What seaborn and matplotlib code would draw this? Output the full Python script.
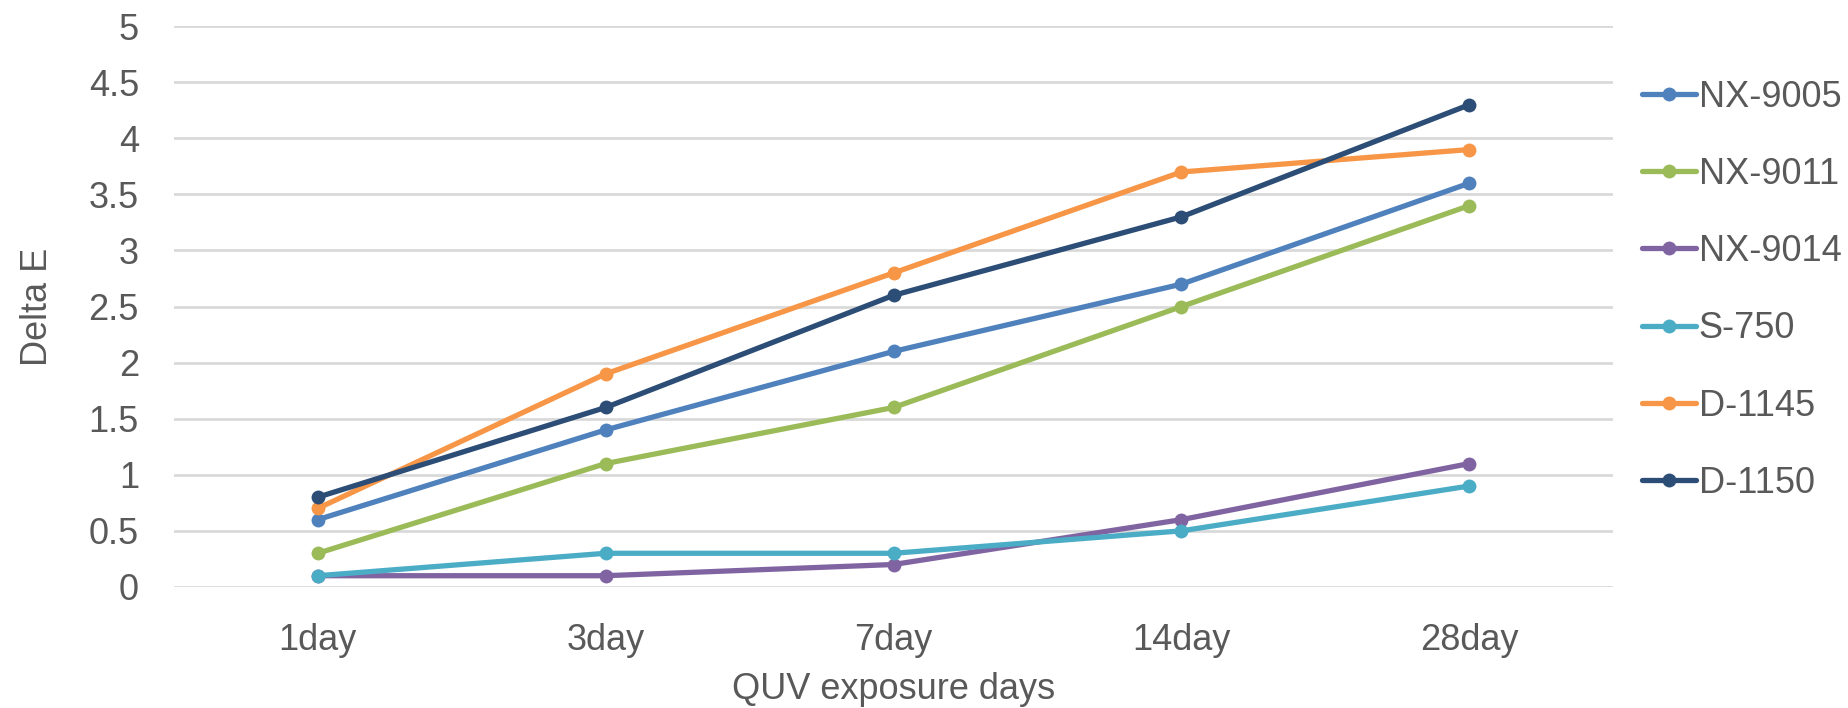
import matplotlib
matplotlib.use("Agg")
import matplotlib.pyplot as plt
import seaborn as sns
import pandas as pd

days = ["1day", "3day", "7day", "14day", "28day"]
nx_9005 = [0.6, 1.4, 2.1, 2.7, 3.6]
nx_9011 = [0.3, 1.1, 1.6, 2.5, 3.4]
nx_9014 = [0.1, 0.1, 0.2, 0.6, 1.1]
s_750 = [0.1, 0.3, 0.3, 0.5, 0.9]
d_1145 = [0.7, 1.9, 2.8, 3.7, 3.9]
d_1150 = [0.8, 1.6, 2.6, 3.3, 4.3]

series_names = ["NX-9005", "NX-9011", "NX-9014", "S-750", "D-1145", "D-1150"]
series_values = [nx_9005, nx_9011, nx_9014, s_750, d_1145, d_1150]
colors = ["#4F81BD", "#9BBB59", "#8064A2", "#4BACC6", "#F79646", "#2C4D75"]
y_ticks = [0, 0.5, 1, 1.5, 2, 2.5, 3, 3.5, 4, 4.5, 5]
y_tick_labels = ["0", "0.5", "1", "1.5", "2", "2.5", "3", "3.5", "4", "4.5", "5"]

rows = []
for name, vals in zip(series_names, series_values):
    for i, v in enumerate(vals):
        rows.append({"day": i, "product": name, "delta_e": v})
df = pd.DataFrame(rows)

sns.set_theme(style="white")
plt.rcParams["font.family"] = ["Liberation Sans", "DejaVu Sans"]
text_color = "#595959"
lw = 3.8
ms = 10

fig = plt.figure(figsize=(18.48, 7.08), dpi=100)
ax = fig.add_axes([0.094, 0.171, 0.779, 0.792])

sns.lineplot(
    data=df, x="day", y="delta_e", hue="product", hue_order=series_names,
    palette=colors, marker="o", markersize=ms, markeredgewidth=0,
    linewidth=lw, ax=ax, legend=False,
)

ax.set_xlim(-0.5, 4.5)
ax.set_ylim(0, 5)
ax.set_xticks(range(len(days)))
ax.set_xticklabels(days)
ax.set_yticks(y_ticks)
ax.set_yticklabels(y_tick_labels)
ax.yaxis.grid(True, color="#D9D9D9", linewidth=2)
ax.set_axisbelow(True)
for sp in ax.spines.values():
    sp.set_visible(False)
ax.tick_params(axis="both", length=0, labelsize=26, colors=text_color)
ax.tick_params(axis="y", pad=25)
ax.tick_params(axis="x", pad=26)
ax.set_xlabel("QUV exposure days", fontsize=26, color=text_color, labelpad=10)
ax.set_ylabel("Delta E", fontsize=26, color=text_color, labelpad=24)

handles = [
    plt.Line2D([], [], color=c, linewidth=lw, marker="o", markersize=ms,
               markeredgewidth=0)
    for c in colors
]
leg = fig.legend(
    handles, series_names, loc="upper left", bbox_to_anchor=(0.8805, 0.908),
    frameon=False, fontsize=26, handlelength=1.5, handletextpad=0.08,
    labelspacing=1.17, borderaxespad=0,
)
for t in leg.get_texts():
    t.set_color(text_color)

fig.savefig("out.png", dpi=100)
